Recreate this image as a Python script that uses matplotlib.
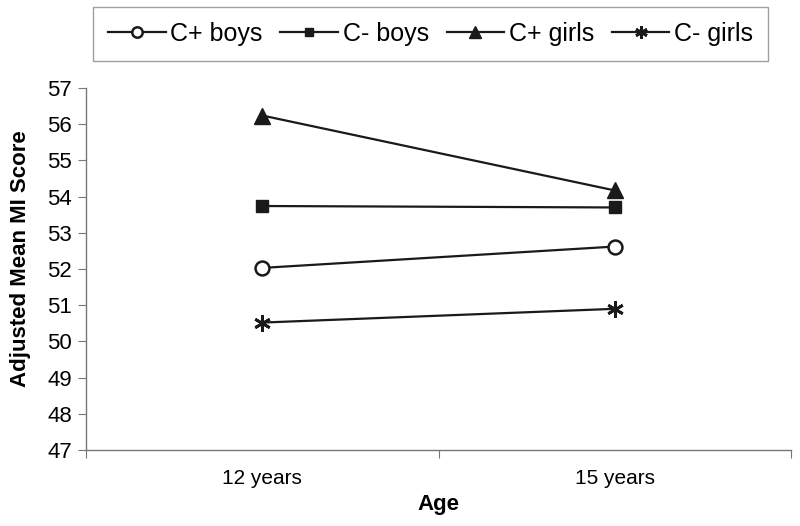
import matplotlib
matplotlib.use("Agg")
import matplotlib.pyplot as plt

plt.rcParams['font.family'] = ['Liberation Sans', 'DejaVu Sans']

categories = ["12 years", "15 years"]
series_names = ["C+ boys", "C- boys", "C+ girls", "C- girls"]
c_plus_boys = [52.03, 52.62]
c_minus_boys = [53.74, 53.70]
c_plus_girls = [56.24, 54.17]
c_minus_girls = [50.52, 50.90]
yticks = list(range(47, 58))

fig = plt.figure(figsize=(8, 5.26), dpi=100)
ax = fig.add_axes([86/800, 1-450/526, (791-86)/800, (450-88)/526])

x = [0.5, 1.5]
styles = [
    dict(marker='o', mfc='white', mec='#1a1a1a', ms=10, mew=1.8),
    dict(marker='s', mfc='#1a1a1a', mec='#1a1a1a', ms=8),
    dict(marker='^', mfc='#1a1a1a', mec='#1a1a1a', ms=11),
    dict(marker=(6, 2, 0), mfc='#1a1a1a', mec='#1a1a1a', ms=12, mew=2.0),
]
data = [c_plus_boys, c_minus_boys, c_plus_girls, c_minus_girls]
for name, vals, st in zip(series_names, data, styles):
    ax.plot(x, vals, color='#1a1a1a', lw=1.6, label=name, **st)

ax.set_xlim(0, 2)
ax.set_ylim(47, 57)
ax.set_yticks(yticks)
ax.set_xticks([0, 1, 2])
ax.set_xticklabels([])
ax.set_xticks(x, minor=True)
ax.set_xticklabels(categories, minor=True)
ax.tick_params(axis='x', which='minor', length=0, pad=14, labelsize=15)
ax.tick_params(axis='x', which='major', length=6, color='#777777', direction='out')
ax.tick_params(axis='y', length=6, color='#777777', labelsize=16, pad=4)
for s in ['top', 'right']:
    ax.spines[s].set_visible(False)
for s in ['left', 'bottom']:
    ax.spines[s].set_color('#777777')
    ax.spines[s].set_linewidth(1.0)

ax.set_xlabel("Age", fontsize=16, fontweight='bold', labelpad=4)
ax.set_ylabel("Adjusted Mean MI Score", fontsize=16, fontweight='bold', labelpad=10)
ax.yaxis.set_label_coords(-0.078, 0.53)

leg = fig.legend(loc='upper left', bbox_to_anchor=(93/800, 1-7/526), ncol=4,
                 fontsize=18, frameon=True, fancybox=False, edgecolor='#888888',
                 handlelength=2.3, handletextpad=0.2, columnspacing=0.7,
                 borderpad=0.6, borderaxespad=0, markerscale=0.75)
leg.get_frame().set_linewidth(1.0)

fig.savefig("out.png", dpi=100)
